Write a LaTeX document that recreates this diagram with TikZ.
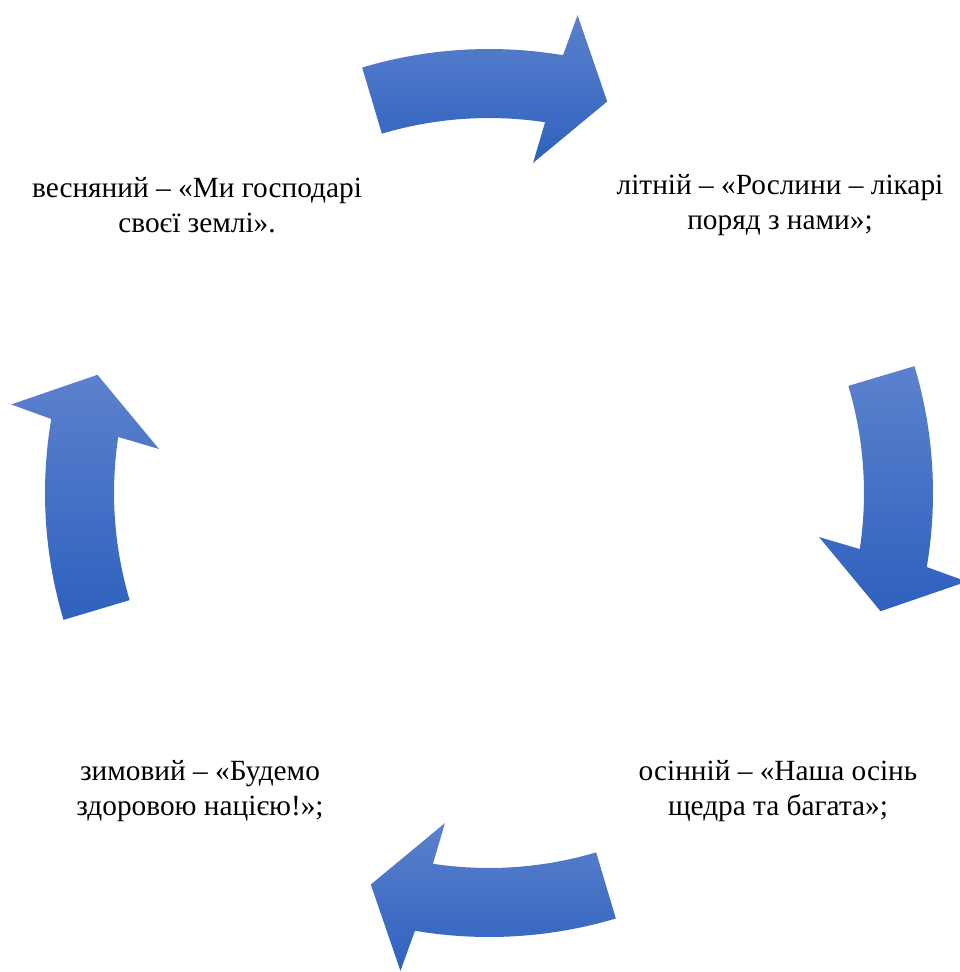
\documentclass[tikz,border=0pt]{standalone}
\usepackage{fontspec}
\setmainfont{Liberation Serif}

\definecolor{arrowtop}{RGB}{92,129,205}
\definecolor{arrowbottom}{RGB}{46,97,190}

\tikzset{
  cyclearrow/.style={top color=arrowtop, bottom color=arrowbottom, draw=none},
  seasonlabel/.style={align=center, font=\fontsize{22}{26.3}\selectfont}
}

\begin{document}
\begin{tikzpicture}[x=0.75pt, y=0.75pt]
\useasboundingbox (0,0) rectangle (960,-972);

\begin{scope}[shift={(489,-493)}]
% top arrow
\path[cyclearrow] (106.6:444) arc[start angle=106.6, end angle=80.4, radius=444]
    -- (79.5:486) -- (73.2:409) -- (82.4:333) -- (81.4:375)
    arc[start angle=81.4, end angle=106.6, radius=375] -- cycle;

% right arrow
\path[cyclearrow] (16.6:444) arc[start angle=16.6, end angle=-9.6, radius=444]
    -- (-10.5:486) -- (-16.8:409) -- (-7.6:333) -- (-8.6:375)
    arc[start angle=-8.6, end angle=16.6, radius=375] -- cycle;

% bottom arrow
\path[cyclearrow] (-73.4:444) arc[start angle=-73.4, end angle=-99.6, radius=444]
    -- (-100.5:486) -- (-106.8:409) -- (-97.6:333) -- (-98.6:375)
    arc[start angle=-98.6, end angle=-73.4, radius=375] -- cycle;

% left arrow
\path[cyclearrow] (196.6:444) arc[start angle=196.6, end angle=170.4, radius=444]
    -- (169.5:486) -- (163.2:409) -- (172.4:333) -- (171.4:375)
    arc[start angle=171.4, end angle=196.6, radius=375] -- cycle;
\end{scope}

% labels
\node[seasonlabel] (spring) at (197,-205) {весняний – «Ми господарі\\своєї землі».};
\node[seasonlabel] (summer) at (780,-205) {літній – «Рослини – лікарі\\поряд з нами»;};
\node[seasonlabel] (autumn) at (778,-791) {осінній – «Наша осінь\\щедра та багата»;};
\node[seasonlabel] (winter) at (200,-791) {зимовий – «Будемо\\здоровою нацією!»;};

\end{tikzpicture}
\end{document}
